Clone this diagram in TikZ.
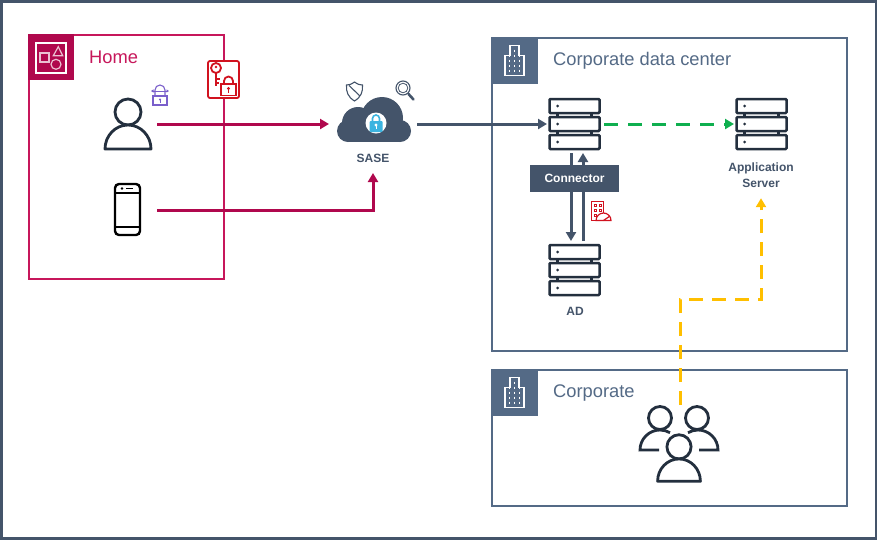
\documentclass[tikz,border=0pt]{standalone}
\usepackage{fontspec}
\setmainfont{Liberation Sans}
\usetikzlibrary{arrows.meta}
\definecolor{frameblue}{HTML}{44546A}
\definecolor{zoneblue}{HTML}{546A86}
\definecolor{inkblue}{HTML}{232F3E}
\definecolor{homered}{HTML}{B0084D}
\definecolor{homeline}{HTML}{C7175B}
\definecolor{iconred}{HTML}{D1121F}
\definecolor{lockpurple}{HTML}{7A5FCB}
\definecolor{lockblue}{HTML}{3CB4E0}
\definecolor{flowgreen}{HTML}{0FAF4F}
\definecolor{flowyellow}{HTML}{FFBF00}
\tikzset{
  spot/.style={minimum width=#1, inner sep=0pt, outer sep=0pt},
  lbl/.style={font=\bfseries\fontsize{12}{16}\selectfont, text=frameblue, align=center, inner sep=0pt},
  zonetitle/.style={font=\fontsize{18.3}{22}\selectfont, anchor=west, inner sep=0pt, text=zoneblue},
  flow/.style={line width=3pt, -{Triangle[length=9pt,width=10pt]}},
  srvstack/.pic={
    \foreach \y in {-25,-7,11} {
      \draw[inkblue, line width=2.5pt, rounded corners=1pt, fill=white] (-25,\y) rectangle (25,\y+14);
      \fill[inkblue] (-17,\y+7) circle (1.5);
    }
    \foreach \x in {-17,17} {
      \foreach \y in {-11,7} {
        \draw[inkblue, line width=2.5pt] (\x,\y) -- (\x,\y+4);
      }
    }
  },
  person/.pic={
    \draw[inkblue, line width=2.8pt] (0,-12) circle (13);
    \draw[inkblue, line width=2.8pt, line join=round, fill=white] (-23,25) arc (180:360:23 and 24) -- cycle;
  },
  bldg/.pic={
    \draw[white, line width=1.2pt] (-9.5,15) -- (-9.5,-5) -- (-4.5,-5) -- (-4.5,-15) -- (4.5,-15) -- (4.5,-5) -- (9.5,-5) -- (9.5,15) -- cycle;
    \foreach \x in {-5,0,5} {
      \draw[white, line width=1.2pt, dash pattern=on 2pt off 3pt] (\x,-11) -- (\x,13);
    }
  }
}
\begin{document}
\begin{tikzpicture}[x=1pt,y=-1pt]
\useasboundingbox (0,0) rectangle (877,539);
% Marco
\fill[white] (0,0) rectangle (877,539);
\draw[frameblue, line width=3pt] (1,1) rectangle (876,538);
% Home
\draw[homeline, line width=2pt] (29,35) rectangle (224,279);
\fill[homered] (28,34) rectangle (74,80);
\draw[white, line width=1.2pt] (36,43) rectangle (66,73);
\draw[white!75!homered, line width=1.2pt] (40,53) rectangle (49,62);
\draw[white!75!homered, line width=1.2pt] (58.3,46.7) -- (53.3,55.7) -- (62.7,55.7) -- cycle;
\draw[white!75!homered, line width=1.2pt] (56,64.3) circle (5);
\node[zonetitle, text=homeline] (homeTitle) at (89,57) {Home};
% Corporate data center
\draw[zoneblue, line width=2pt] (492,38) rectangle (847,351);
\fill[zoneblue] (491,37) rectangle (538,84);
\pic at (514.5,60.5) {bldg};
\node[zonetitle] (dcTitle) at (553,61) {Corporate data center};
% Corporate
\draw[zoneblue, line width=2pt] (492,370) rectangle (847,506);
\fill[zoneblue] (491,369) rectangle (538,416);
\pic at (514.5,392.5) {bldg};
\node[zonetitle] (corpTitle) at (553,393) {Corporate};
% Nodos
\node[spot=58, minimum height=52] (userIcon) at (128,124) {};
\node[spot=58, minimum height=54] (phoneIcon) at (128,210) {};
\node[spot=88, minimum height=98] (saseIcon) at (373,124) {};
\node[spot=55, minimum height=58] (srvConn) at (574.5,124) {};
\node[spot=55, minimum height=58] (srvAD) at (574.5,270) {};
\node[spot=55, minimum height=58] (srvApp) at (761.5,124) {};
\node[spot=80, minimum height=78] (crowdIcon) at (680,444) {};
\coordinate (bendY) at (720,299);
% Flechas
\draw[flow, homered] (userIcon.east) -- (saseIcon.west);
\draw[flow, homered] (phoneIcon.east) -| (saseIcon.south);
\draw[flow, frameblue] (saseIcon.east) -- (srvConn.west);
\draw[flow, frameblue] ([xshift=-3.5pt]srvConn.south) -- ([xshift=-3.5pt]srvAD.north);
\draw[flow, frameblue] ([xshift=8.5pt]srvAD.north) -- ([xshift=8.5pt]srvConn.south);
\draw[flow, flowgreen, dash pattern=on 14pt off 10pt, shorten <=2pt] (srvConn.east) -- (srvApp.west);
% Servidores
\pic at (574.5,124) {srvstack};
\pic at (574.5,270) {srvstack};
\pic at (761.5,124) {srvstack};
\node[lbl, minimum height=46, text width=90] (appLabel) at (761,175) {Application\\Server};
\node[lbl] (adLabel) at (575,311) {AD};
\draw[flow, flowyellow, dash pattern=on 14pt off 9pt] (crowdIcon.north) |- (bendY) -| (appLabel.south);
\node[fill=frameblue, text=white, font=\bfseries\fontsize{12}{14}\selectfont, minimum width=89, minimum height=27, inner sep=0pt] (connBox) at (574.5,178.5) {Connector};
% Persona
\pic at (128,124) {person};
% Telefono
\draw[black, line width=2.4pt, rounded corners=4pt] (115,184) rectangle (140,235);
\draw[black, line width=1.8pt] (115,193) -- (140,193);
\draw[black, line width=1.8pt] (115,227) -- (140,227);
\fill[black] (122,188.5) circle (1.4);
\draw[black, line width=1.4pt] (126,188.5) -- (133,188.5);
% Candado morado
\draw[lockpurple, line width=1.1pt] (153,96) rectangle (167,105);
\draw[lockpurple, line width=1.1pt] (155,96) -- (155,90) arc (180:360:5) -- (165,96);
\draw[lockpurple, line width=1pt, {Triangle[length=2.5pt,width=3pt]}-{Triangle[length=2.5pt,width=3pt]}] (151,91) -- (169,91);
\fill[lockpurple] (160,99.5) circle (1.2);
\draw[lockpurple, line width=0.8pt] (160,99.5) -- (160,103);
% Llave y candado
\draw[iconred, line width=1.8pt, rounded corners=2pt, fill=white] (208,61) rectangle (239,98);
\draw[iconred, line width=1.8pt] (216,68) circle (5);
\draw[iconred, line width=1.8pt] (216,73) -- (216,86) (216,79) -- (220,79) (216,83) -- (219,83);
\fill[iconred] (216,67) circle (1.3);
\draw[iconred, line width=1.8pt, fill=white] (221,84) rectangle (236,95.5);
\draw[iconred, line width=1.8pt] (224,84) -- (224,81) arc (180:360:4.5) -- (233,84);
\fill[iconred] (228.5,88.5) circle (1.7);
\draw[iconred, line width=1.2pt] (228.5,88.5) -- (228.5,93);
% Nube
\fill[frameblue] (348,131) circle (11);
\fill[frameblue] (358,123) circle (16);
\fill[frameblue] (382,118) circle (21);
\fill[frameblue] (400,131) circle (11);
\fill[frameblue] (348,125) rectangle (400,142);
\fill[white] (376,123) circle (10.5);
\fill[lockblue, rounded corners=1pt] (369.5,121) rectangle (382.5,132);
\draw[lockblue, line width=1.6pt] (372.5,121) -- (372.5,118.5) arc (180:360:3.5) -- (379.5,121);
\fill[white] (376,125) circle (1.6);
\draw[white, line width=1pt] (376,125) -- (376,129);
\node[lbl] (saseLabel) at (373,158) {SASE};
% Escudo y lupa
\draw[frameblue, line width=1.1pt] (354.5,82) .. controls (351,84.5) and (349,85) .. (346.5,85) .. controls (346,92) and (348,97) .. (354.5,101) .. controls (361,97) and (363,92) .. (362.5,85) .. controls (360,85) and (358,84.5) .. (354.5,82) -- cycle;
\draw[frameblue, line width=1.1pt] (349,85.5) -- (360,96);
\draw[frameblue, line width=1.1pt] (403,88) circle (7);
\draw[frameblue, line width=0.8pt] (403,88) circle (4.8);
\draw[frameblue, line width=2.6pt, line cap=round] (408.5,94) -- (413.5,99.5);
% Edificio y medidor
\draw[iconred, line width=1.2pt, fill=white] (591.5,201.5) rectangle (603.5,220.5);
\foreach \x in {594,599} {
  \foreach \y in {204,209,214} {
    \draw[iconred, line width=0.9pt] (\x,\y) rectangle (\x+2.5,\y+2.5);
  }
}
\draw[iconred, line width=1.2pt, fill=white] (596,220.5) arc (180:360:7.5) -- cycle;
\draw[iconred, line width=1.2pt] (603.5,220.5) -- (610,216);
\draw[iconred, line width=1.6pt] (601,220.5) -- (606,220.5);
% Grupo
\draw[inkblue, line width=2.8pt] (660,418) circle (11.5);
\draw[inkblue, line width=2.8pt] (697,418) circle (11.5);
\draw[inkblue, line width=2.8pt] (659,450) -- (640,450) arc (180:300:20 and 20);
\draw[inkblue, line width=2.8pt] (699,450) -- (718,450) arc (360:240:20 and 20);
\pic[scale=0.93] at (679,458) {person};
\end{tikzpicture}
\end{document}
